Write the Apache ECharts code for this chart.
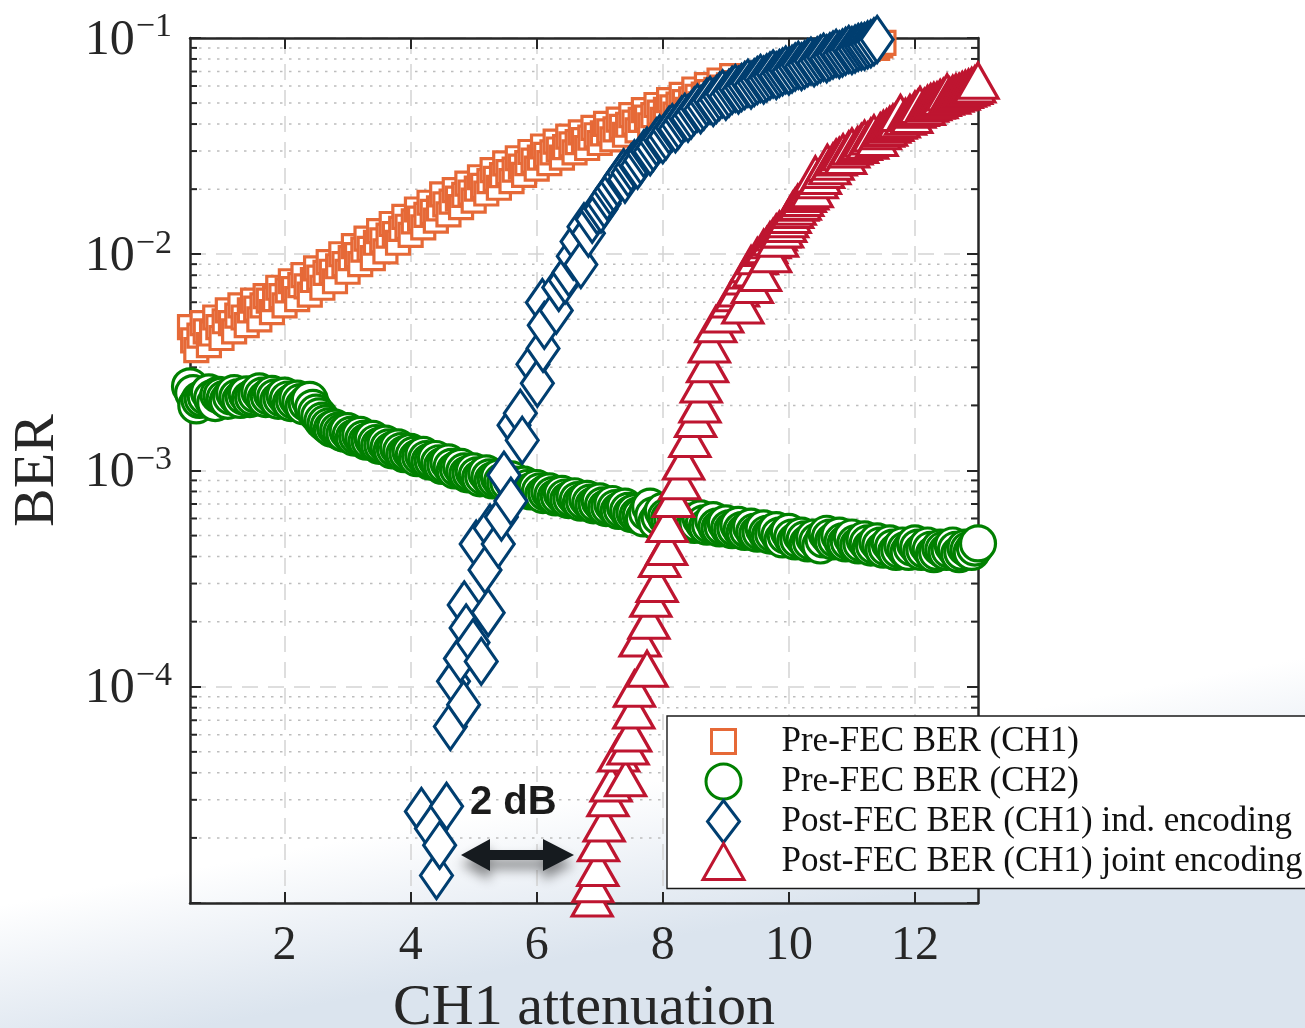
<!DOCTYPE html>
<html>
<head>
<meta charset="utf-8">
<script src="https://cdn.jsdelivr.net/npm/echarts@6/dist/echarts.min.js"></script>
<style>
  html, body { margin: 0; padding: 0; background: #fff; }
  #chart { width: 1305px; height: 1028px; }
</style>
</head>
<body>
<div id="chart"></div>
<script>
// Axis ticks
const xTicks = [2, 4, 6, 8, 10, 12];
const yDecades = [1e-5, 1e-4, 1e-3, 1e-2, 1e-1];

// Series names
const seriesNames = [
  'Pre-FEC BER (CH1)',
  'Pre-FEC BER (CH2)',
  'Post-FEC BER (CH1) ind. encoding',
  'Post-FEC BER (CH1) joint encoding'
];

// [CH1 attenuation, BER]
const preFecCh1 = [
  [0.5,0.0046],[0.55,0.0040],[0.6,0.0036],[0.65,0.0042],[0.7,0.0048],[0.75,0.0044],[0.8,0.0038],[0.85,0.0043],
  [0.9,0.0051],[0.95,0.0046],[1.0,0.0041],[1.05,0.0049],[1.1,0.0055],[1.15,0.0048],[1.2,0.0044],[1.25,0.0052],
  [1.3,0.0058],[1.35,0.0051],[1.4,0.0047],[1.45,0.0055],[1.5,0.0061],[1.55,0.0056],[1.6,0.0050],[1.65,0.0058],
  [1.7,0.0064],[1.75,0.0061],[1.8,0.0054],[1.85,0.0062],[1.9,0.0070],[1.95,0.0064],[2.0,0.0058],[2.05,0.0068],
  [2.1,0.0075],[2.15,0.0069],[2.2,0.0062],[2.25,0.0072],[2.3,0.0080],[2.35,0.0071],[2.4,0.0065],[2.45,0.0076],
  [2.5,0.0086],[2.55,0.0078],[2.6,0.0070],[2.65,0.0082],[2.7,0.0092],[2.75,0.0083],[2.8,0.0075],[2.85,0.0088],
  [2.9,0.0100],[2.95,0.0090],[3.0,0.0083],[3.05,0.0096],[3.1,0.0109],[3.15,0.0099],[3.2,0.0090],[3.25,0.0105],
  [3.3,0.0118],[3.35,0.0106],[3.4,0.0096],[3.45,0.0113],[3.5,0.0128],[3.55,0.0116],[3.6,0.0103],[3.65,0.0122],
  [3.7,0.0138],[3.75,0.0124],[3.8,0.0113],[3.85,0.0131],[3.9,0.0149],[3.95,0.0134],[4.0,0.0123],[4.05,0.0142],
  [4.1,0.0161],[4.15,0.0146],[4.2,0.0133],[4.25,0.0152],[4.3,0.0173],[4.35,0.0157],[4.4,0.0143],[4.45,0.0163],
  [4.5,0.0189],[4.55,0.0170],[4.6,0.0153],[4.65,0.0175],[4.7,0.0198],[4.75,0.0181],[4.8,0.0165],[4.85,0.0188],
  [4.9,0.0212],[4.95,0.0193],[5.0,0.0177],[5.05,0.0201],[5.1,0.0227],[5.15,0.0207],[5.2,0.0191],[5.25,0.0218],
  [5.3,0.0245],[5.35,0.0223],[5.4,0.0203],[5.45,0.0232],[5.5,0.0263],[5.55,0.0240],[5.6,0.0218],[5.65,0.0246],
  [5.7,0.0278],[5.75,0.0254],[5.8,0.0233],[5.85,0.0264],[5.9,0.0297],[5.95,0.0271],[6.0,0.0249],[6.05,0.0280],
  [6.1,0.0315],[6.15,0.0288],[6.2,0.0264],[6.25,0.0296],[6.3,0.0332],[6.35,0.0305],[6.4,0.0280],[6.45,0.0313],
  [6.5,0.0350],[6.55,0.0322],[6.6,0.0296],[6.65,0.0330],[6.7,0.0366],[6.75,0.0337],[6.8,0.0310],[6.85,0.0346],
  [6.9,0.0384],[6.95,0.0355],[7.0,0.0327],[7.05,0.0362],[7.1,0.0401],[7.15,0.0370],[7.2,0.0340],[7.25,0.0378],
  [7.3,0.0419],[7.35,0.0388],[7.4,0.0357],[7.45,0.0397],[7.5,0.0440],[7.55,0.0406],[7.6,0.0374],[7.65,0.0418],
  [7.7,0.0464],[7.75,0.0428],[7.8,0.0395],[7.85,0.0440],[7.9,0.0490],[7.95,0.0452],[8.0,0.0418],[8.05,0.0465],
  [8.1,0.0516],[8.15,0.0478],[8.2,0.0442],[8.25,0.0492],[8.3,0.0546],[8.35,0.0505],[8.4,0.0465],[8.45,0.0520],
  [8.5,0.0578],[8.55,0.0535],[8.6,0.0494],[8.65,0.0548],[8.7,0.0606],[8.75,0.0562],[8.8,0.0519],[8.85,0.0576],
  [8.9,0.0636],[8.95,0.0590],[9.0,0.0545],[9.05,0.0604],[9.1,0.0666],[9.15,0.0618],[9.2,0.0572],[9.25,0.0632],
  [9.3,0.0655],[9.35,0.0645],[9.4,0.0635],[9.45,0.0660],[9.5,0.0685],[9.55,0.0673],[9.6,0.0662],[9.65,0.0688],
  [9.7,0.0712],[9.75,0.0700],[9.8,0.0690],[9.85,0.0715],[9.9,0.0740],[9.95,0.0728],[10.0,0.0718],[10.05,0.0742],
  [10.1,0.0765],[10.15,0.0755],[10.2,0.0745],[10.25,0.0768],[10.3,0.0790],[10.35,0.0780],[10.4,0.0770],[10.45,0.0792],
  [10.5,0.0815],[10.55,0.0805],[10.6,0.0795],[10.65,0.0818],[10.7,0.0840],[10.75,0.0830],[10.8,0.0820],[10.85,0.0843],
  [10.9,0.0865],[10.95,0.0855],[11.0,0.0845],[11.05,0.0866],[11.1,0.0885],[11.15,0.0878],[11.2,0.0870],[11.25,0.0890],
  [11.3,0.0910],[11.35,0.0905],[11.4,0.0900],[11.45,0.0925],[11.5,0.0950]
];

const preFecCh2 = [
  [0.5,0.00245],[0.55,0.00228],[0.6,0.00200],[0.65,0.00212],[0.7,0.00215],[0.75,0.00220],[0.8,0.00230],[0.85,0.00216],
  [0.9,0.00205],[0.95,0.00224],[1.0,0.00222],[1.05,0.00215],[1.1,0.00210],[1.15,0.00220],[1.2,0.00228],[1.25,0.00218],
  [1.3,0.00212],[1.35,0.00220],[1.4,0.00225],[1.45,0.00214],[1.5,0.00218],[1.55,0.00224],[1.6,0.00232],[1.65,0.00222],
  [1.7,0.00214],[1.75,0.00220],[1.8,0.00226],[1.85,0.00218],[1.9,0.00210],[1.95,0.00216],[2.0,0.00222],[2.05,0.00213],
  [2.1,0.00205],[2.15,0.00210],[2.2,0.00215],[2.25,0.00207],[2.3,0.00198],[2.35,0.00205],[2.4,0.00212],[2.45,0.00195],
  [2.5,0.00185],[2.55,0.00178],[2.6,0.00170],[2.65,0.00165],[2.7,0.00160],[2.75,0.00156],[2.8,0.00158],[2.85,0.00153],
  [2.9,0.00150],[2.95,0.00148],[3.0,0.00152],[3.05,0.00146],[3.1,0.00142],[3.15,0.00144],[3.2,0.00146],[3.25,0.00140],
  [3.3,0.00136],[3.35,0.00137],[3.4,0.00140],[3.45,0.00134],[3.5,0.00130],[3.55,0.00131],[3.6,0.00133],[3.65,0.00128],
  [3.7,0.00124],[3.75,0.00126],[3.8,0.00128],[3.85,0.00123],[3.9,0.00119],[3.95,0.00120],[4.0,0.00122],[4.05,0.00118],
  [4.1,0.00114],[4.15,0.00116],[4.2,0.00118],[4.25,0.00113],[4.3,0.00110],[4.35,0.00111],[4.4,0.00113],[4.45,0.00108],
  [4.5,0.00105],[4.55,0.00106],[4.6,0.00109],[4.65,0.00104],[4.7,0.00100],[4.75,0.00102],[4.8,0.00104],[4.85,0.00099],
  [4.9,0.00096],[4.95,0.00097],[5.0,0.00099],[5.05,0.00095],[5.1,0.00092],[5.15,0.00094],[5.2,0.00097],[5.25,0.00093],
  [5.3,0.00090],[5.35,0.00091],[5.4,0.00093],[5.45,0.00089],[5.5,0.00087],[5.55,0.00088],[5.6,0.00091],[5.65,0.00086],
  [5.7,0.00084],[5.75,0.00085],[5.8,0.00086],[5.85,0.00083],[5.9,0.00080],[5.95,0.00081],[6.0,0.00083],[6.05,0.00080],
  [6.1,0.00077],[6.15,0.00079],[6.2,0.00080],[6.25,0.00077],[6.3,0.00075],[6.35,0.00076],[6.4,0.00078],[6.45,0.00075],
  [6.5,0.00073],[6.55,0.00074],[6.6,0.00076],[6.65,0.00073],[6.7,0.00071],[6.75,0.00072],[6.8,0.00074],[6.85,0.00071],
  [6.9,0.00069],[6.95,0.00070],[7.0,0.00072],[7.05,0.00069],[7.1,0.00067],[7.15,0.00068],[7.2,0.00070],[7.25,0.00067],
  [7.3,0.00065],[7.35,0.00066],[7.4,0.00068],[7.45,0.00065],[7.5,0.00063],[7.55,0.00064],[7.6,0.00062],[7.65,0.00062],
  [7.7,0.00060],[7.75,0.00064],[7.8,0.00068],[7.85,0.00062],[7.9,0.00058],[7.95,0.00061],[8.0,0.00065],[8.05,0.00061],
  [8.1,0.00060],[8.15,0.00060],[8.2,0.00063],[8.25,0.00059],[8.3,0.00058],[8.35,0.00059],[8.4,0.00061],[8.45,0.00058],
  [8.5,0.00056],[8.55,0.00057],[8.6,0.00060],[8.65,0.00057],[8.7,0.00055],[8.75,0.00056],[8.8,0.00059],[8.85,0.00055],
  [8.9,0.00054],[8.95,0.00055],[9.0,0.00057],[9.05,0.00054],[9.1,0.00053],[9.15,0.00054],[9.2,0.00056],[9.25,0.00053],
  [9.3,0.00052],[9.35,0.00053],[9.4,0.00055],[9.45,0.00052],[9.5,0.00051],[9.55,0.00052],[9.6,0.00054],[9.65,0.00051],
  [9.7,0.00050],[9.75,0.00051],[9.8,0.00053],[9.85,0.00050],[9.9,0.00048],[9.95,0.00050],[10.0,0.00052],[10.05,0.00049],
  [10.1,0.00047],[10.15,0.00048],[10.2,0.00050],[10.25,0.00048],[10.3,0.00046],[10.35,0.00047],[10.4,0.00049],[10.45,0.00047],
  [10.5,0.00045],[10.55,0.00048],[10.6,0.00051],[10.65,0.00049],[10.7,0.00047],[10.75,0.00048],[10.8,0.00050],[10.85,0.00047],
  [10.9,0.00046],[10.95,0.00047],[11.0,0.00049],[11.05,0.00046],[11.1,0.00045],[11.15,0.00046],[11.2,0.00048],[11.25,0.00046],
  [11.3,0.00044],[11.35,0.00045],[11.4,0.00047],[11.45,0.00045],[11.5,0.00043],[11.55,0.00044],[11.6,0.00046],[11.65,0.00044],
  [11.7,0.00042],[11.75,0.00043],[11.8,0.00045],[11.85,0.00043],[11.9,0.00042],[11.95,0.00044],[12.0,0.00046],[12.05,0.00044],
  [12.1,0.00042],[12.15,0.00043],[12.2,0.00045],[12.25,0.00043],[12.3,0.00041],[12.35,0.00042],[12.4,0.00044],[12.45,0.00043],
  [12.5,0.00042],[12.55,0.00043],[12.6,0.00045],[12.65,0.00043],[12.7,0.00041],[12.75,0.00042],[12.8,0.00044],[12.85,0.00043],
  [12.9,0.00042],[12.95,0.00044],[13.0,0.00046]
];

const postFecInd = [
  [4.17,2.65e-5],[4.33,2.21e-5],[4.41,1.34e-5],[4.46,1.85e-5],[4.57,2.80e-5],[4.63,6.55e-5],[4.68,1.06e-4],
  [4.79,1.35e-4],[4.84,8.26e-5],[4.85,2.39e-4],[4.88,1.87e-4],[4.99,1.60e-4],[5.04,4.57e-4],[5.12,1.31e-4],
  [5.18,3.47e-4],[5.23,2.20e-4],[5.26,5.42e-4],[5.39,4.57e-4],[5.44,6.09e-4],[5.48,9.52e-4],[5.59,7.22e-4],
  [5.64,1.62e-3],[5.74,1.84e-3],[5.77,1.38e-3],[5.94,3.10e-3],[6.01,2.53e-3],[6.09,5.98e-3],[6.10,3.67e-3],
  [6.12,4.69e-3],[6.31,5.50e-3],[6.35,7.02e-3],[6.45,7.6e-3],[6.51,8.23e-3],[6.58,9.8e-3],[6.64,1.145e-2],
  [6.70,8.96e-3],[6.75,1.34e-2],[6.82,1.25e-2],[6.88,1.45e-2],[6.96,1.59e-2],[7.02,1.62e-2],[7.07,1.71e-2],
  [7.12,1.85e-2],[7.17,1.95e-2],[7.22,2.03e-2],[7.28,2.15e-2],[7.33,2.28e-2],[7.38,2.38e-2],
  [7.4,0.0222],[7.45,0.0238],[7.5,0.0252],[7.55,0.0262],[7.6,0.0258],[7.65,0.0272],[7.7,0.0292],[7.75,0.0300],
  [7.8,0.0298],[7.85,0.0312],[7.9,0.0331],[7.95,0.0342],[8.0,0.0338],[8.05,0.0352],[8.1,0.0375],[8.15,0.0385],
  [8.2,0.0380],[8.25,0.0396],[8.3,0.0418],[8.35,0.0430],[8.4,0.0425],[8.45,0.0440],[8.5,0.0460],[8.55,0.0475],
  [8.6,0.0466],[8.65,0.0483],[8.7,0.0505],[8.75,0.0515],[8.8,0.0503],[8.85,0.0520],[8.9,0.0538],[8.95,0.0552],
  [9.0,0.0537],[9.05,0.0555],[9.1,0.0573],[9.15,0.0585],[9.2,0.0574],[9.25,0.0590],[9.3,0.0603],[9.35,0.0618],
  [9.4,0.0606],[9.45,0.0622],[9.5,0.0636],[9.55,0.0650],[9.6,0.0640],[9.65,0.0655],[9.7,0.0668],[9.75,0.0682],
  [9.8,0.0670],[9.85,0.0686],[9.9,0.0697],[9.95,0.0712],[10.0,0.0703],[10.05,0.0718],[10.1,0.0735],[10.15,0.0748],
  [10.2,0.0737],[10.25,0.0752],[10.3,0.0768],[10.35,0.0782],[10.4,0.0768],[10.45,0.0785],[10.5,0.0800],[10.55,0.0815],
  [10.6,0.0802],[10.65,0.0820],[10.7,0.0835],[10.75,0.0850],[10.8,0.0838],[10.85,0.0853],[10.9,0.0868],[10.95,0.0885],
  [11.0,0.0875],[11.05,0.0890],[11.1,0.0905],[11.15,0.0912],[11.2,0.0915],[11.25,0.0930],[11.3,0.0940],[11.35,0.0960],
  [11.4,0.0985]
];

const postFecJoint = [
  [6.88,1.05e-5],[6.89,1.22e-5],[6.97,1.45e-5],[6.98,1.89e-5],[7.07,2.33e-5],[7.13,3.05e-5],[7.18,3.57e-5],
  [7.30,4.91e-5],[7.41,3.77e-5],[7.45,5.29e-5],[7.49,6.08e-5],[7.54,7.76e-5],[7.55,9.8e-5],[7.64,1.67e-4],
  [7.75,1.21e-4],[7.78,2.02e-4],[7.81,2.55e-4],[7.91,2.99e-4],[7.95,3.90e-4],[8.06,4.43e-4],[8.07,5.66e-4],
  [8.17,7.38e-4],[8.27,8.93e-4],[8.33,1.10e-3],[8.43,1.40e-3],[8.52,1.73e-3],[8.59,2.02e-3],[8.61,2.50e-3],
  [8.71,3.10e-3],[8.74,3.83e-3],[8.84,4.74e-3],[8.95,5.27e-3],[9.08,6.18e-3],[9.15,6.6e-3],[9.2,6.95e-3],
  [9.27,5.8e-3],[9.3,7.9e-3],[9.35,8.4e-3],[9.4,9.0e-3],[9.42,7.2e-3],[9.45,8.6e-3],[9.5,9.8e-3],[9.55,8.2e-3],
  [9.6,1.07e-2],[9.65,1.1e-2],[9.7,1.16e-2],[9.71,1.0e-2],[9.75,1.2e-2],[9.8,1.26e-2],[9.82,1.18e-2],
  [9.85,1.3e-2],[9.9,1.3e-2],[9.95,1.38e-2],[9.98,1.45e-2],[10.02,1.52e-2],[10.06,1.6e-2],[10.1,1.66e-2],
  [10.14,1.73e-2],[10.18,1.75e-2],[10.22,1.82e-2],[10.26,1.9e-2],[10.3,1.95e-2],[10.34,2.05e-2],[10.37,2.0e-2],
  [10.42,2.34e-2],[10.45,2.2e-2],[10.5,2.3e-2],[10.55,2.45e-2],[10.61,2.65e-2],[10.65,2.55e-2],[10.7,2.68e-2],
  [10.75,2.8e-2],[10.8,2.85e-2],[10.86,2.96e-2],[10.9,2.85e-2],[10.95,3.05e-2],[11.0,3.15e-2],[11.09,3.2e-2],
  [11.15,3.3e-2],[11.2,3.42e-2],[11.25,3.35e-2],[11.3,3.5e-2],[11.35,3.62e-2],[11.4,3.45e-2],[11.45,3.7e-2],
  [11.5,3.8e-2],[11.55,3.85e-2],[11.6,3.97e-2],[11.65,4.05e-2],[11.7,4.14e-2],[11.75,4.2e-2],[11.77,4.5e-2],
  [11.85,4.32e-2],[11.92,4.5e-2],[11.95,4.4e-2],[12.0,4.66e-2],[12.05,4.75e-2],[12.08,4.9e-2],[12.15,4.8e-2],
  [12.2,4.96e-2],[12.25,5.05e-2],[12.3,5.12e-2],[12.35,5.15e-2],[12.4,5.28e-2],[12.45,5.35e-2],[12.51,5.6e-2],
  [12.55,5.4e-2],[12.6,5.52e-2],[12.65,5.6e-2],[12.7,5.64e-2],[12.75,5.75e-2],[12.8,5.82e-2],[12.85,5.9e-2],
  [12.9,6.0e-2],[12.95,6.1e-2],[13.0,6.35e-2]
];

// Minor log ticks: 2..9 within each decade
const minorValues = [];
for (let i = 0; i < yDecades.length - 1; i++) {
  for (let m = 2; m <= 9; m++) minorValues.push(m * yDecades[i]);
}

const SERIF = '"Liberation Serif", "Times New Roman", serif';
const INK = '#262626';
const COLORS = ['#E66937', '#008000', '#003E70', '#BE1530'];

const chart = echarts.init(document.getElementById('chart'), null, { renderer: 'canvas' });

const axisLineStyle = { color: INK, width: 2.5 };
const majorTick = { show: true, inside: true, length: 11, lineStyle: { color: INK, width: 2 } };
const dashedGrid = { show: true, lineStyle: { color: '#d4d4d4', width: 1.5, type: [16, 10] } };

function scatterSeries(name, data, symbol, size, color, z) {
  return {
    type: 'scatter', name, data, symbol, symbolSize: size, clip: false, z,
    itemStyle: { color: '#ffffff', borderColor: color, borderWidth: 3.2, opacity: 1 },
    emphasis: { disabled: true }
  };
}

// Legend icons in item-box pixel units (box 106 x 48, centre 53,24)
const BOX = 'M0,0 M106,48 ';
const legendIcons = [
  BOX + 'M41,12 L65,12 L65,36 L41,36 Z',
  BOX + 'M35.5,24 A17.5,17.5 0 1 1 70.5,24 A17.5,17.5 0 1 1 35.5,24 Z',
  BOX + 'M53,3 L69,24 L53,45 L37,24 Z',
  BOX + 'M53,6 L73.5,42 L32.5,42 Z'
];

chart.setOption({
  animation: false,
  backgroundColor: {
    type: 'linear', x: 0, y: 0, x2: 0.15, y2: 1,
    colorStops: [
      { offset: 0, color: '#ffffff' },
      { offset: 0.85, color: '#ffffff' },
      { offset: 0.92, color: '#eef2f7' },
      { offset: 1, color: '#dbe4ee' }
    ]
  },
  grid: {
    left: 190, top: 38, width: 788, height: 865,
    containLabel: false, outerBoundsMode: 'none'
  },
  xAxis: [
    {
      type: 'value', position: 'bottom', min: 0.5, max: 13,
      axisLine: { show: true, onZero: false, lineStyle: axisLineStyle },
      axisTick: Object.assign({ customValues: xTicks }, majorTick),
      axisLabel: {
        customValues: xTicks, margin: 19, color: INK,
        fontFamily: SERIF, fontSize: 48
      },
      splitLine: dashedGrid,
      name: 'CH1 attenuation', nameLocation: 'middle', nameGap: 77,
      nameMoveOverlap: false,
      nameTextStyle: { fontFamily: SERIF, fontSize: 58, color: INK }
    },
    {
      type: 'value', position: 'top', min: 0.5, max: 13,
      axisLine: { show: true, onZero: false, lineStyle: axisLineStyle },
      axisTick: Object.assign({ customValues: xTicks }, majorTick),
      axisLabel: { show: false },
      splitLine: { show: false }
    }
  ],
  yAxis: [
    {
      type: 'log', logBase: 10, min: 1e-5, max: 1e-1, splitNumber: 4, position: 'left',
      axisLine: { show: true, onZero: false, lineStyle: axisLineStyle },
      axisTick: majorTick,
      axisLabel: {
        margin: 18, color: INK,
        formatter: v => {
          const e = Math.round(Math.log10(v));
          if (e <= -5) return '';
          return '{b|10}{e|\u2212' + (-e) + '}';
        },
        rich: {
          b: { fontFamily: SERIF, fontSize: 50, color: INK, verticalAlign: 'bottom' },
          e: { fontFamily: SERIF, fontSize: 34, color: INK, verticalAlign: 'bottom', padding: [0, 0, 21, 1] }
        }
      },
      splitLine: dashedGrid,
      name: 'BER', nameLocation: 'middle', nameGap: 123, nameMoveOverlap: false,
      nameTextStyle: { fontFamily: SERIF, fontSize: 58, color: INK }
    },
    {
      type: 'log', logBase: 10, min: 1e-5, max: 1e-1, splitNumber: 4, position: 'right',
      axisLine: { show: true, onZero: false, lineStyle: axisLineStyle },
      axisTick: majorTick,
      axisLabel: { show: false },
      splitLine: { show: false }
    }
  ],
  legend: {
    orient: 'vertical', left: 667, top: 716,
    padding: [0, 90, 1.5, 2],
    itemWidth: 106, itemHeight: 48, itemGap: -11,
    backgroundColor: '#ffffff', borderColor: '#1a1a1a', borderWidth: 1.4,
    symbolKeepAspect: true,
    itemStyle: { borderWidth: 3 },
    textStyle: { fontFamily: SERIF, fontSize: 35, color: '#111111' },
    selectedMode: false,
    data: seriesNames.map((n, i) => ({ name: n, icon: 'path://' + legendIcons[i] }))
  },
  series: [
    {
      type: 'custom', name: 'minor-grid', silent: true, z: 1, clip: false,
      data: minorValues.map(v => [0.5, v]),
      renderItem: (params, api) => {
        const y = api.coord([0.5, api.value(1)])[1];
        const cs = params.coordSys;
        const x0 = cs.x, x1 = cs.x + cs.width;
        return {
          type: 'group',
          children: [
            { type: 'line', shape: { x1: x0, y1: y, x2: x1, y2: y },
              style: { stroke: '#bdbdbd', lineWidth: 1.5, lineDash: [2.5, 6.5] } },
            { type: 'line', shape: { x1: x0, y1: y, x2: x0 + 7, y2: y },
              style: { stroke: INK, lineWidth: 2 } },
            { type: 'line', shape: { x1: x1 - 7, y1: y, x2: x1, y2: y },
              style: { stroke: INK, lineWidth: 2 } }
          ]
        };
      }
    },
    scatterSeries(seriesNames[0], preFecCh1, 'rect', 23, COLORS[0], 3),
    scatterSeries(seriesNames[1], preFecCh2, 'circle', 35, COLORS[1], 3),
    scatterSeries(seriesNames[2], postFecInd, 'diamond', [32, 46], COLORS[2], 3),
    scatterSeries(seriesNames[3], postFecJoint, 'triangle', [40, 35], COLORS[3], 3)
  ],
  graphic: [
    {
      type: 'polygon', z: 10,
      shape: { points: [[461,855],[490,839],[490,850],[543,850],[543,839],[574,855],[543,871],[543,860],[490,860],[490,871]] },
      style: { fill: '#161b1f', shadowBlur: 12, shadowOffsetY: 9, shadowColor: 'rgba(0,0,0,0.45)' }
    },
    {
      type: 'text', z: 10, x: 470, y: 803,
      style: {
        text: '2 dB', font: 'bold 40px "Liberation Sans", Arial, sans-serif', fill: '#1b1b1b',
        textAlign: 'left', textVerticalAlign: 'middle', align: 'left', verticalAlign: 'middle'
      }
    }
  ]
});
</script>
</body>
</html>
